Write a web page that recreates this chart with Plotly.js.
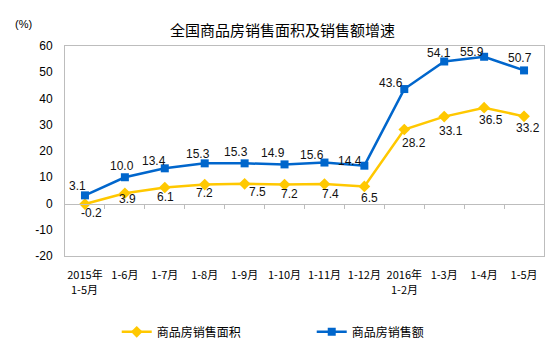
<!DOCTYPE html>
<html>
<head>
<meta charset="utf-8">
<script src="https://cdn.plot.ly/plotly-3.0.1.min.js"></script>
<style>html,body{margin:0;padding:0;background:#fff;}#chart{width:554px;height:353px;}</style>
</head>
<body>
<div id="chart"></div>
<script>
const categories = ["2015年<br>1-5月","1-6月","1-7月","1-8月","1-9月","1-10月","1-11月","1-12月","2016年<br>1-2月","1-3月","1-4月","1-5月"];
const areaGrowth = [-0.2, 3.9, 6.1, 7.2, 7.5, 7.2, 7.4, 6.5, 28.2, 33.1, 36.5, 33.2];
const salesGrowth = [3.1, 10.0, 13.4, 15.3, 15.3, 14.9, 15.6, 14.4, 43.6, 54.1, 55.9, 50.7];
const yTickVals = [-20, -10, 0, 10, 20, 30, 40, 50, 60];
const yTickText = ["-20", "-10", "0", "10", "20", "30", "40", "50", "60"];
const areaName = "商品房销售面积";
const salesName = "商品房销售额";
const titleText = "全国商品房销售面积及销售额增速";

// label offsets (pixels) — styling only
const areaDx = [7, 3, 1, 0, 13, 5, 6, 5, 10, 7, 7, 4];
const areaDy = [-9, -6, -10, -8, -8, -9, -10, -12, -14, -14, -12, -12];
const salesDx = [-7, -3, -11, -7, -9, -12, -12, -14, -13, -5, -12, -4];
const salesDy = [9, 11, 7, 9, 11, 11, 8, 5, 6, 8, 5, 12];

const idx = categories.map((c, i) => i);
const firstLines = categories.map(c => c.split("<br>")[0]);
const secondLines = categories.map(c => c.split("<br>")[1] || "");
const labelFont = {family: "Liberation Sans, Arial, sans-serif", size: 12, color: "#111"};
const tickFont = {family: "Noto Sans CJK SC, sans-serif", size: 11, color: "#000"};

const data = [
  {
    x: idx, y: areaGrowth, name: areaName, type: "scatter", mode: "lines+markers",
    line: {color: "#FFC800", width: 2.5},
    marker: {symbol: "diamond", size: 9, color: "#FFC800"},
    cliponaxis: false, hoverinfo: "skip"
  },
  {
    x: idx, y: salesGrowth, name: salesName, type: "scatter", mode: "lines+markers",
    line: {color: "#0066CC", width: 2.5},
    marker: {symbol: "square", size: 8, color: "#0066CC"},
    cliponaxis: false, hoverinfo: "skip"
  },
  {
    x: idx, y: salesGrowth, xaxis: "x2", yaxis: "y", type: "scatter", mode: "none",
    showlegend: false, hoverinfo: "skip"
  }
];

const annotations = [];
idx.forEach(i => {
  annotations.push({x: i, y: areaGrowth[i], xref: "x", yref: "y", text: areaGrowth[i].toFixed(1),
    showarrow: false, xanchor: "center", yanchor: "middle", xshift: areaDx[i], yshift: areaDy[i], font: labelFont});
  annotations.push({x: i, y: salesGrowth[i], xref: "x", yref: "y", text: salesGrowth[i].toFixed(1),
    showarrow: false, xanchor: "center", yanchor: "middle", xshift: salesDx[i], yshift: salesDy[i], font: labelFont});
  if (secondLines[i]) {
    annotations.push({x: i, y: 0, xref: "x", yref: "paper", text: secondLines[i], showarrow: false,
      xanchor: "center", yanchor: "middle", yshift: -33, font: tickFont});
  }
});
annotations.push({text: "(%)", xref: "paper", yref: "paper", x: -0.064, y: 1.105, showarrow: false, xanchor: "right", yanchor: "middle",
  font: {family: "Liberation Sans, Arial, sans-serif", size: 11, color: "#000"}});

const layout = {
  width: 554, height: 353,
  margin: {l: 65, r: 10, t: 46, b: 97},
  paper_bgcolor: "#fff", plot_bgcolor: "#fff",
  title: {text: titleText, font: {family: "Noto Sans CJK SC, sans-serif", size: 15, color: "#000"},
    x: 0.51, xanchor: "center", xref: "container", y: 0.912, yanchor: "middle", yref: "container"},
  xaxis: {
    range: [-0.5, 11.5], tickmode: "array", tickvals: idx, ticktext: firstLines, automargin: false,
    showgrid: false, zeroline: false, showline: true, mirror: true, linecolor: "#BDBDBD", linewidth: 1,
    ticks: "", ticklabelstandoff: 9,
    tickfont: tickFont, fixedrange: true
  },
  xaxis2: {
    overlaying: "x", anchor: "free", position: 0.25, range: [-0.5, 11.5],
    tickmode: "array", tickvals: idx.slice(0, 11).map(i => i + 0.5),
    showticklabels: false, ticks: "outside", ticklen: 4, tickcolor: "#BDBDBD",
    showline: true, linecolor: "#BDBDBD", linewidth: 1, showgrid: false, zeroline: false
  },
  yaxis: {
    range: [-20, 60], tickmode: "array", tickvals: yTickVals, ticktext: yTickText, automargin: false,
    showgrid: false, zeroline: false,
    showline: true, mirror: true, linecolor: "#BDBDBD", linewidth: 1,
    ticks: "", ticklabelstandoff: 9,
    tickfont: {family: "Liberation Sans, Arial, sans-serif", size: 12, color: "#000"}, fixedrange: true
  },
  legend: {
    orientation: "h", x: 0.108, xanchor: "left", y: 0.06, yref: "container", yanchor: "middle",
    font: {family: "Noto Sans CJK SC, sans-serif", size: 12, color: "#000"},
    entrywidth: 150, entrywidthmode: "pixels", itemwidth: 30
  },
  annotations: annotations,
  showlegend: true
};

Plotly.newPlot("chart", data, layout, {displayModeBar: false, staticPlot: true});
</script>
</body>
</html>
